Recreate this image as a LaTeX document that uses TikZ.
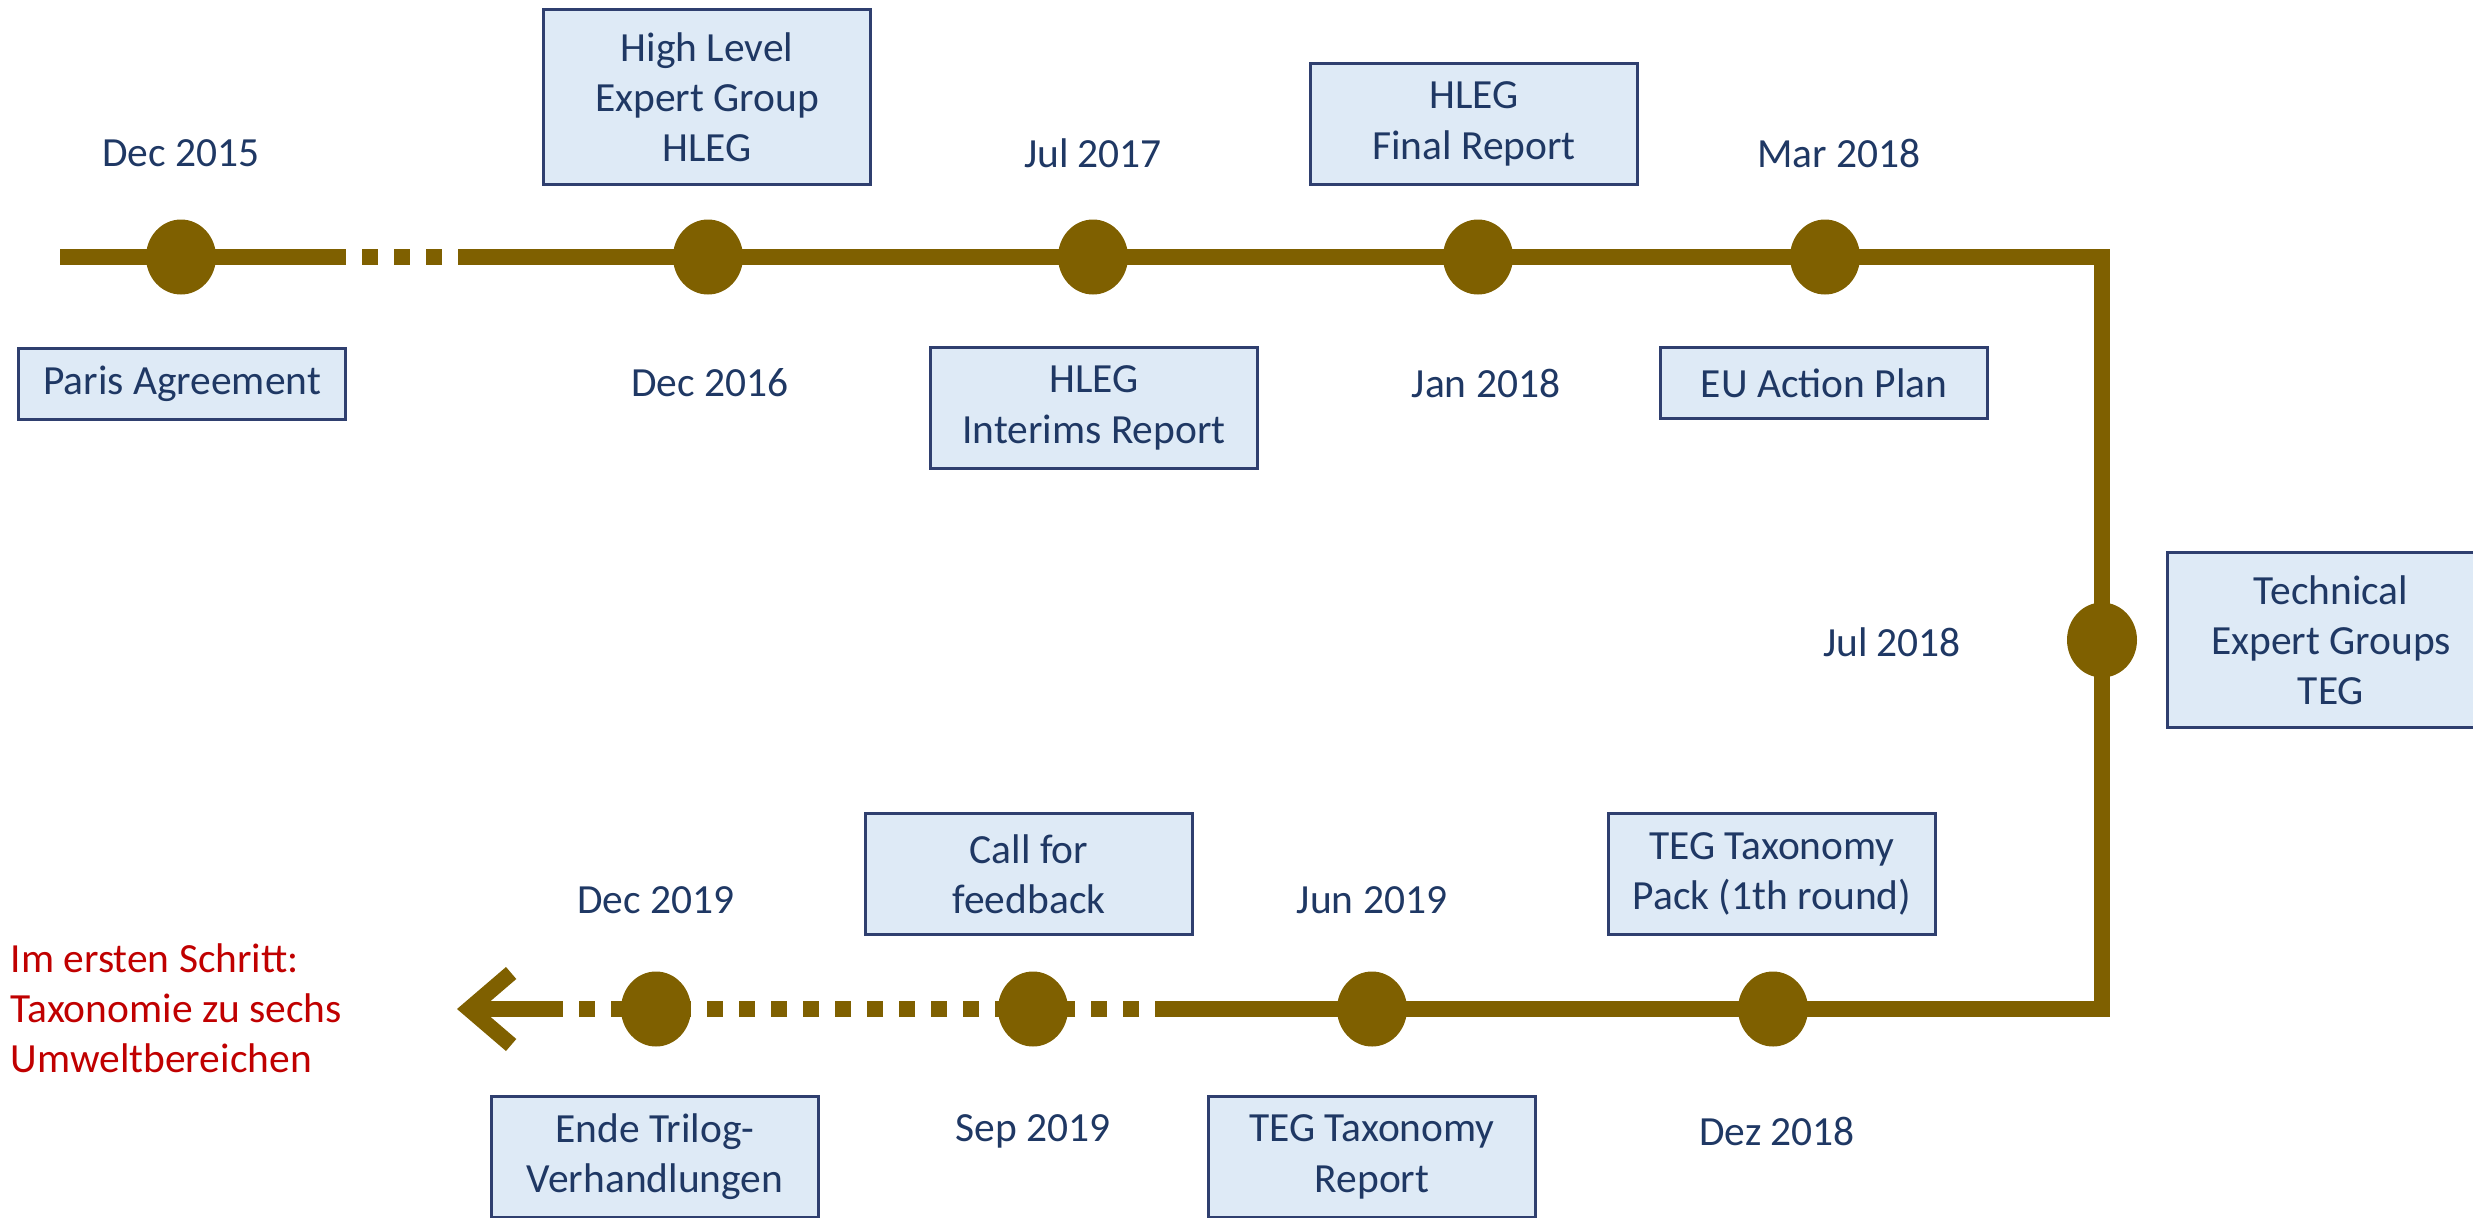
\documentclass[tikz,border=0pt]{standalone}
\usepackage{fontspec}
\setmainfont{Carlito}
\usepackage{tikz}
\usetikzlibrary{calc,arrows.meta,shapes.geometric}
\definecolor{tlgold}{HTML}{7F6000}
\definecolor{txtblue}{HTML}{1F3864}
\definecolor{boxfill}{HTML}{DEEAF6}
\definecolor{boxline}{HTML}{2F3F6F}
\definecolor{noteRed}{HTML}{C00000}

\begin{document}
\begin{tikzpicture}[every node/.style={font=\fontsize{11.8}{14.3}\selectfont, text=txtblue},
  tl/.style={line width=4.5pt, tlgold},
  tldash/.style={tl, dash pattern=on 0.16cm off 0.16cm},
  dot/.style={ellipse, fill=tlgold, minimum width=0.70cm, minimum height=0.75cm, inner sep=0pt},
  evbox/.style={draw=boxline, line width=0.6pt, fill=boxfill, minimum width=3.27cm, align=center, inner sep=0pt},
  onel/.style={evbox, minimum height=0.71cm},
  twol/.style={evbox, minimum height=1.21cm},
  threel/.style={evbox, minimum height=1.75cm}]
\useasboundingbox (0,0) rectangle (24.73,-12.18);
% corners of the line
\coordinate (start) at (0.60,-2.57);
\coordinate (gapL) at (3.46,-2.57);
\coordinate (gapR) at (4.58,-2.57);
\coordinate (cornerT) at (21.02,-2.57);
\coordinate (cornerB) at (21.02,-10.09);
\coordinate (solidEnd) at (11.71,-10.09);
\coordinate (tailEnd) at (5.60,-10.09);
\coordinate (tipEnd) at (4.57,-10.09);
\draw[tl] (start) -- (gapL);
\draw[tldash, dash phase=0.16cm] (gapL) -- (gapR);
\draw[tl, line join=miter] (gapR) -- (cornerT) -- (cornerB) -- (solidEnd);
\draw[tldash] (solidEnd) -- (tailEnd);
\draw[tl, -{Straight Barb[length=0.42cm, width=0.72cm, line width=4.5pt]}] (tailEnd) -- (tipEnd);
%\draw[tl] (tailEnd) -- (tipEnd);
% dots
\path (1.81,-2.57) node[dot] (dec15) {};
\path (7.08,-2.57) node[dot] (dec16) {};
\path (10.93,-2.57) node[dot] (jul17) {};
\path (14.78,-2.57) node[dot] (jan18) {};
\path (18.25,-2.57) node[dot] (mar18) {};
\path (21.02,-6.40) node[dot] (jul18) {};
\path (17.73,-10.09) node[dot] (dez18) {};
\path (13.72,-10.09) node[dot] (jun19) {};
\path (10.33,-10.09) node[dot] (sep19) {};
\path (6.56,-10.09) node[dot] (dec19) {};
% dates
\path (1.81,-1.53) node (tDec15) {Dec 2015};
\path (7.10,-3.83) node (tDec16) {Dec 2016};
\path (10.93,-1.53) node (tJul17) {Jul 2017};
\path (14.86,-3.83) node (tJan18) {Jan 2018};
\path (18.39,-1.53) node (tMar18) {Mar 2018};
\path (18.92,-6.42) node (tJul18) {Jul 2018};
\path (17.77,-11.31) node (tDez18) {Dez 2018};
\path (13.72,-9.00) node (tJun19) {Jun 2019};
\path (10.33,-11.31) node (tSep19) {Sep 2019};
\path (6.56,-9.00) node (tDec19) {Dec 2019};
% events
\path (1.82,-3.84) node[onel] (paris) {Paris Agreement};
\path (7.07,-0.97) node[threel] (hleg) {High Level\\Expert Group\\HLEG};
\path (10.94,-4.08) node[twol] (interim) {HLEG\\Interims Report};
\path (14.74,-1.24) node[twol] (final) {HLEG\\Final Report};
\path (18.24,-3.83) node[onel] (actplan) {EU Action Plan};
\path (23.31,-6.40) node[threel] (teg) {Technical\\Expert Groups\\TEG};
\path (17.72,-8.74) node[twol] (pack) {TEG Taxonomy\\Pack (1th round)};
\path (13.72,-11.57) node[twol] (tegrep) {TEG Taxonomy\\Report};
\path (10.29,-8.74) node[twol] (callfb) {Call for\\feedback};
\path (6.55,-11.57) node[twol] (trilog) {Ende Trilog-\\Verhandlungen};
\path (0.10,-10.08) node[anchor=west, align=left, text=noteRed, inner sep=0pt] (note) {Im ersten Schritt:\\Taxonomie zu sechs\\Umweltbereichen};
\end{tikzpicture}
\end{document}
